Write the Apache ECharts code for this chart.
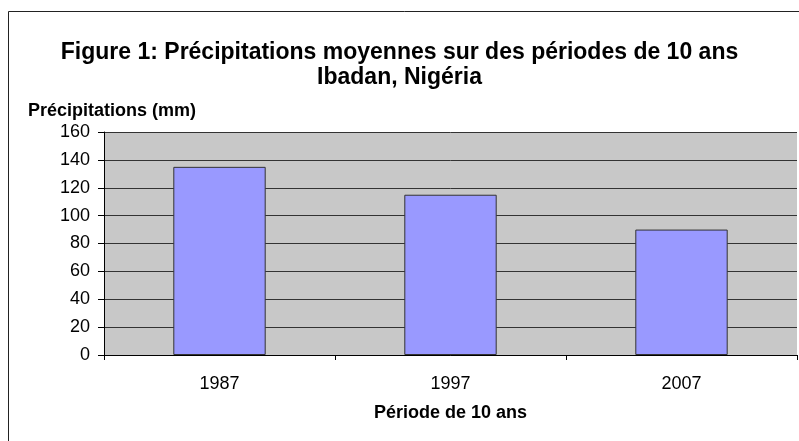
<!DOCTYPE html>
<html>
<head>
<meta charset="utf-8">
<script src="https://cdn.jsdelivr.net/npm/echarts@6/dist/echarts.min.js"></script>
<style>
  html, body { margin: 0; padding: 0; background: #fff; }
  #chart { width: 799px; height: 441px; }
</style>
</head>
<body>
<div id="chart"></div>
<script>
const periods = ['1987', '1997', '2007'];
const rainfall = [135, 115, 90];
const yTicks = [0, 20, 40, 60, 80, 100, 120, 140, 160];

const chart = echarts.init(document.getElementById('chart'));

const option = {
  animation: false,
  textStyle: { fontFamily: 'Liberation Sans, Arial, sans-serif' },
  title: {
    text: 'Figure 1: Précipitations moyennes sur des périodes de 10 ans\nIbadan, Nigéria',
    left: 'center',
    top: 35,
    textStyle: {
      fontSize: 23,
      fontWeight: 'bold',
      color: '#000',
      lineHeight: 25
    }
  },
  graphic: [{
    type: 'rect',
    shape: { x: 8.5, y: 11.5, width: 820, height: 460 },
    style: { fill: 'none', stroke: '#222', lineWidth: 1 },
    silent: true
  }],
  grid: {
    left: 104,
    right: 2,
    top: 132,
    bottom: 86,
    backgroundColor: '#C8C8C8',
    show: true,
    borderWidth: 0
  },
  xAxis: {
    type: 'category',
    data: periods,
    name: 'Période de 10 ans',
    nameLocation: 'middle',
    nameGap: 49,
    nameTextStyle: { fontSize: 18, fontWeight: 'bold', color: '#000' },
    axisLine: { lineStyle: { color: '#000', width: 1 } },
    axisTick: { show: true, alignWithLabel: false, length: 5, lineStyle: { color: '#000' } },
    axisLabel: { fontSize: 18, color: '#000', margin: 20 }
  },
  yAxis: {
    type: 'value',
    min: 0,
    max: yTicks[yTicks.length - 1],
    interval: 20,
    name: 'Précipitations (mm)',
    nameLocation: 'end',
    nameGap: 12,
    nameTextStyle: { fontSize: 18, fontWeight: 'bold', color: '#000', align: 'left', padding: [0, 0, 0, -76] },
    axisLine: { show: true, lineStyle: { color: '#000', width: 1 } },
    axisTick: { show: true, length: 6, lineStyle: { color: '#000' } },
    axisLabel: { fontSize: 18, color: '#000', margin: 14 },
    splitLine: { show: true, lineStyle: { color: '#333', width: 1 } }
  },
  series: [{
    type: 'bar',
    data: rainfall,
    barWidth: '40%',
    itemStyle: {
      color: '#9999FF',
      borderColor: '#333',
      borderWidth: 1
    }
  }]
};

chart.setOption(option);
</script>
</body>
</html>
